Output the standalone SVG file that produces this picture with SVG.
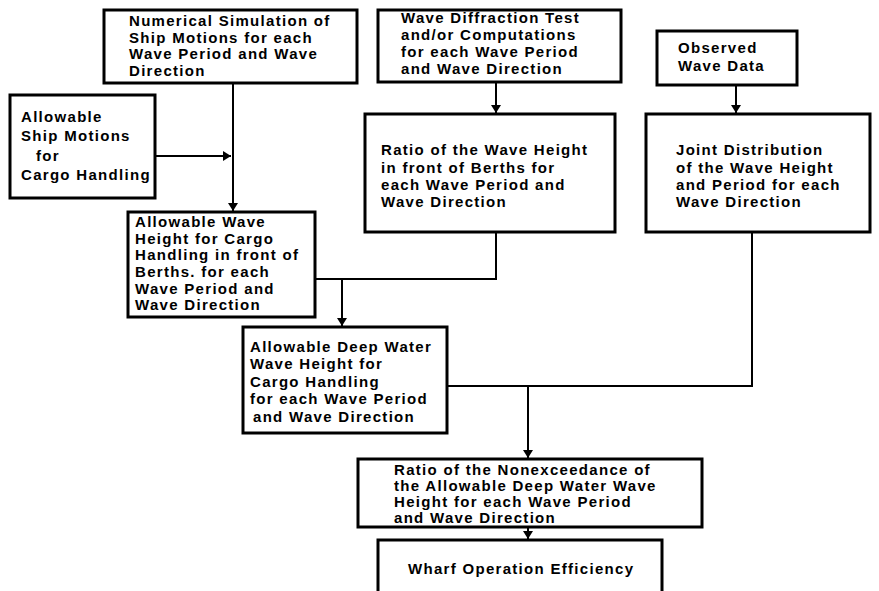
<svg xmlns="http://www.w3.org/2000/svg" width="879" height="591" viewBox="0 0 879 591">
<style>
.box{fill:#fff;stroke:#000;stroke-width:3}
.t{font-family:"Liberation Sans",Arial,sans-serif;font-size:15px;font-weight:bold;letter-spacing:1.3px;fill:#000}
.c{fill:none;stroke:#000;stroke-width:2}
</style>
<defs>
<marker id="ah" markerUnits="userSpaceOnUse" markerWidth="8" markerHeight="12" viewBox="0 0 8 12" refX="8" refY="6" orient="auto">
<path d="M0,1 L8,6 L0,11 z" fill="#000"/>
</marker>
</defs>
<rect width="879" height="591" fill="#fff"/>
<g id="connectors">
<line class="c" x1="233" y1="83" x2="233" y2="211" marker-end="url(#ah)"/>
<line class="c" x1="155" y1="156" x2="231" y2="156" marker-end="url(#ah)"/>
<line class="c" x1="496" y1="82" x2="496" y2="113" marker-end="url(#ah)"/>
<line class="c" x1="736" y1="85" x2="736" y2="113" marker-end="url(#ah)"/>
<polyline class="c" points="496,232 496,279 315,279"/>
<line class="c" x1="342" y1="279" x2="342" y2="326" marker-end="url(#ah)"/>
<polyline class="c" points="752,232 752,386 447,386"/>
<line class="c" x1="528" y1="386" x2="528" y2="458" marker-end="url(#ah)"/>
<line class="c" x1="528" y1="527" x2="528" y2="539" marker-end="url(#ah)"/>
</g>
<g id="n1">
<rect class="box" x="104" y="10" width="253" height="73"/>
<text class="t" x="129" y="26">Numerical Simulation of</text>
<text class="t" x="129" y="42.5">Ship Motions for each</text>
<text class="t" x="129" y="59">Wave Period and Wave</text>
<text class="t" x="129" y="75.5">Direction</text>
</g>
<g id="n2">
<rect class="box" x="10" y="95" width="145" height="103"/>
<text class="t" x="21" y="122">Allowable</text>
<text class="t" x="21" y="141">Ship Motions</text>
<text class="t" x="36" y="161">for</text>
<text class="t" x="21" y="180">Cargo Handling</text>
</g>
<g id="n3">
<rect class="box" x="128" y="212" width="187" height="105"/>
<text class="t" x="135" y="227">Allowable Wave</text>
<text class="t" x="135" y="243.5">Height for Cargo</text>
<text class="t" x="135" y="260">Handling in front of</text>
<text class="t" x="135" y="277">Berths. for each</text>
<text class="t" x="135" y="293.5">Wave Period and</text>
<text class="t" x="135" y="310">Wave Direction</text>
</g>
<g id="n4">
<rect class="box" x="378" y="10" width="243" height="72"/>
<text class="t" x="401" y="23">Wave Diffraction Test</text>
<text class="t" x="401" y="40">and/or Computations</text>
<text class="t" x="401" y="57">for each Wave Period</text>
<text class="t" x="401" y="74">and Wave Direction</text>
</g>
<g id="n5">
<rect class="box" x="657" y="31" width="140" height="54"/>
<text class="t" x="678" y="53">Observed</text>
<text class="t" x="678" y="71">Wave Data</text>
</g>
<g id="n6">
<rect class="box" x="365" y="114" width="250" height="118"/>
<text class="t" x="381" y="155">Ratio of the Wave Height</text>
<text class="t" x="381" y="173">in front of Berths for</text>
<text class="t" x="381" y="190">each Wave Period and</text>
<text class="t" x="381" y="207">Wave Direction</text>
</g>
<g id="n7">
<rect class="box" x="646" y="114" width="224" height="118"/>
<text class="t" x="676" y="155">Joint Distribution</text>
<text class="t" x="676" y="173">of the Wave Height</text>
<text class="t" x="676" y="190">and Period for each</text>
<text class="t" x="676" y="207">Wave Direction</text>
</g>
<g id="n8">
<rect class="box" x="243" y="327" width="204" height="106"/>
<text class="t" x="250" y="352">Allowable Deep Water</text>
<text class="t" x="250" y="369">Wave Height for</text>
<text class="t" x="250" y="387">Cargo Handling</text>
<text class="t" x="250" y="404">for each Wave Period</text>
<text class="t" x="253" y="422">and Wave Direction</text>
</g>
<g id="n9">
<rect class="box" x="358" y="459" width="344" height="68"/>
<text class="t" x="394" y="475">Ratio of the Nonexceedance of</text>
<text class="t" x="394" y="491">the Allowable Deep Water Wave</text>
<text class="t" x="394" y="507">Height for each Wave Period</text>
<text class="t" x="394" y="523">and Wave Direction</text>
</g>
<g id="n10">
<rect class="box" x="378" y="540" width="284" height="70"/>
<text class="t" x="408" y="574">Wharf Operation Efficiency</text>
</g>
</svg>
